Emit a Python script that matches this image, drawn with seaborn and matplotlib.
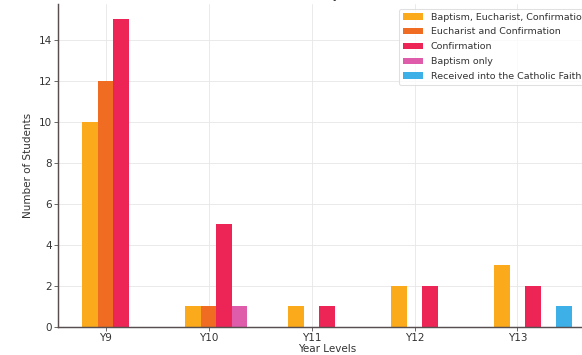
import numpy as np
import pandas as pd
import matplotlib
matplotlib.use("Agg")
import matplotlib.pyplot as plt
import seaborn as sns

# Year levels and counts of students per sacrament category
levels = ["Y9", "Y10", "Y11", "Y12", "Y13"]
categories = [
    "Baptism, Eucharist, Confirmation",
    "Eucharist and Confirmation",
    "Confirmation",
    "Baptism only",
    "Received into the Catholic Faith",
]
bap_euch_conf = [10, 1, 1, 2, 3]
euch_conf = [12, 1, 0, 0, 0]
confirmation = [15, 5, 1, 2, 2]
baptism_only = [0, 1, 0, 0, 0]
received = [0, 0, 0, 0, 1]

colors = ["#FBAA1C", "#F06C22", "#EC2556", "#DE5CAA", "#3DB0E8"]

series = [bap_euch_conf, euch_conf, confirmation, baptism_only, received]
bar_w = 0.15
rows = []
for k, (name, vals) in enumerate(zip(categories, series)):
    for i, v in enumerate(vals):
        rows.append({"pos": round(i + (k - 1) * bar_w, 4), "count": v, "type": name})
df = pd.DataFrame(rows)

sns.set_theme(style="whitegrid", rc={
    "axes.edgecolor": "#574f4f",
    "grid.color": "#e6e6e6",
    "grid.linewidth": 0.8,
    "xtick.bottom": True,
    "ytick.left": True,
    "xtick.color": "#574f4f",
    "ytick.color": "#574f4f",
})
plt.rcParams["font.family"] = ["DejaVu Sans"]

fig = plt.figure(figsize=(582 / 75, 355 / 75), dpi=75)
ax = fig.add_axes([58 / 582, 28 / 355, 538 / 582, 323 / 355])

sns.barplot(data=df, x="pos", y="count", hue="type", hue_order=categories,
            palette=colors, native_scale=True, dodge=False, width=1.0,
            saturation=1, errorbar=None, linewidth=0, ax=ax)

ax.set_xticks(range(len(levels)))
ax.set_xticklabels(levels)
ax.set_xlim(-0.4625, 4.7625)
ax.set_ylim(0, 15.75)
ax.tick_params(axis="both", labelsize=10, labelcolor="#333333", length=3.5, width=0.8, pad=2.5)
ax.set_xlabel("Year Levels", fontsize=10, color="#333333", labelpad=1)
ax.set_ylabel("Number of Students", fontsize=10, color="#333333", labelpad=5)
ax.set_title("Sacraments by Year Level", fontsize=12, color="#333333")

for side in ["top", "right"]:
    ax.spines[side].set_visible(False)
for side in ["left", "bottom"]:
    ax.spines[side].set_linewidth(1.4)

sns.move_legend(ax, "upper right", title=None, fontsize=9.1, frameon=True,
                labelspacing=0.62, handlelength=2.1)
leg = ax.get_legend()
leg.get_frame().set_edgecolor("#d9d9d9")
for t in leg.get_texts():
    t.set_color("#333333")

fig.savefig("out.png", dpi=75)
